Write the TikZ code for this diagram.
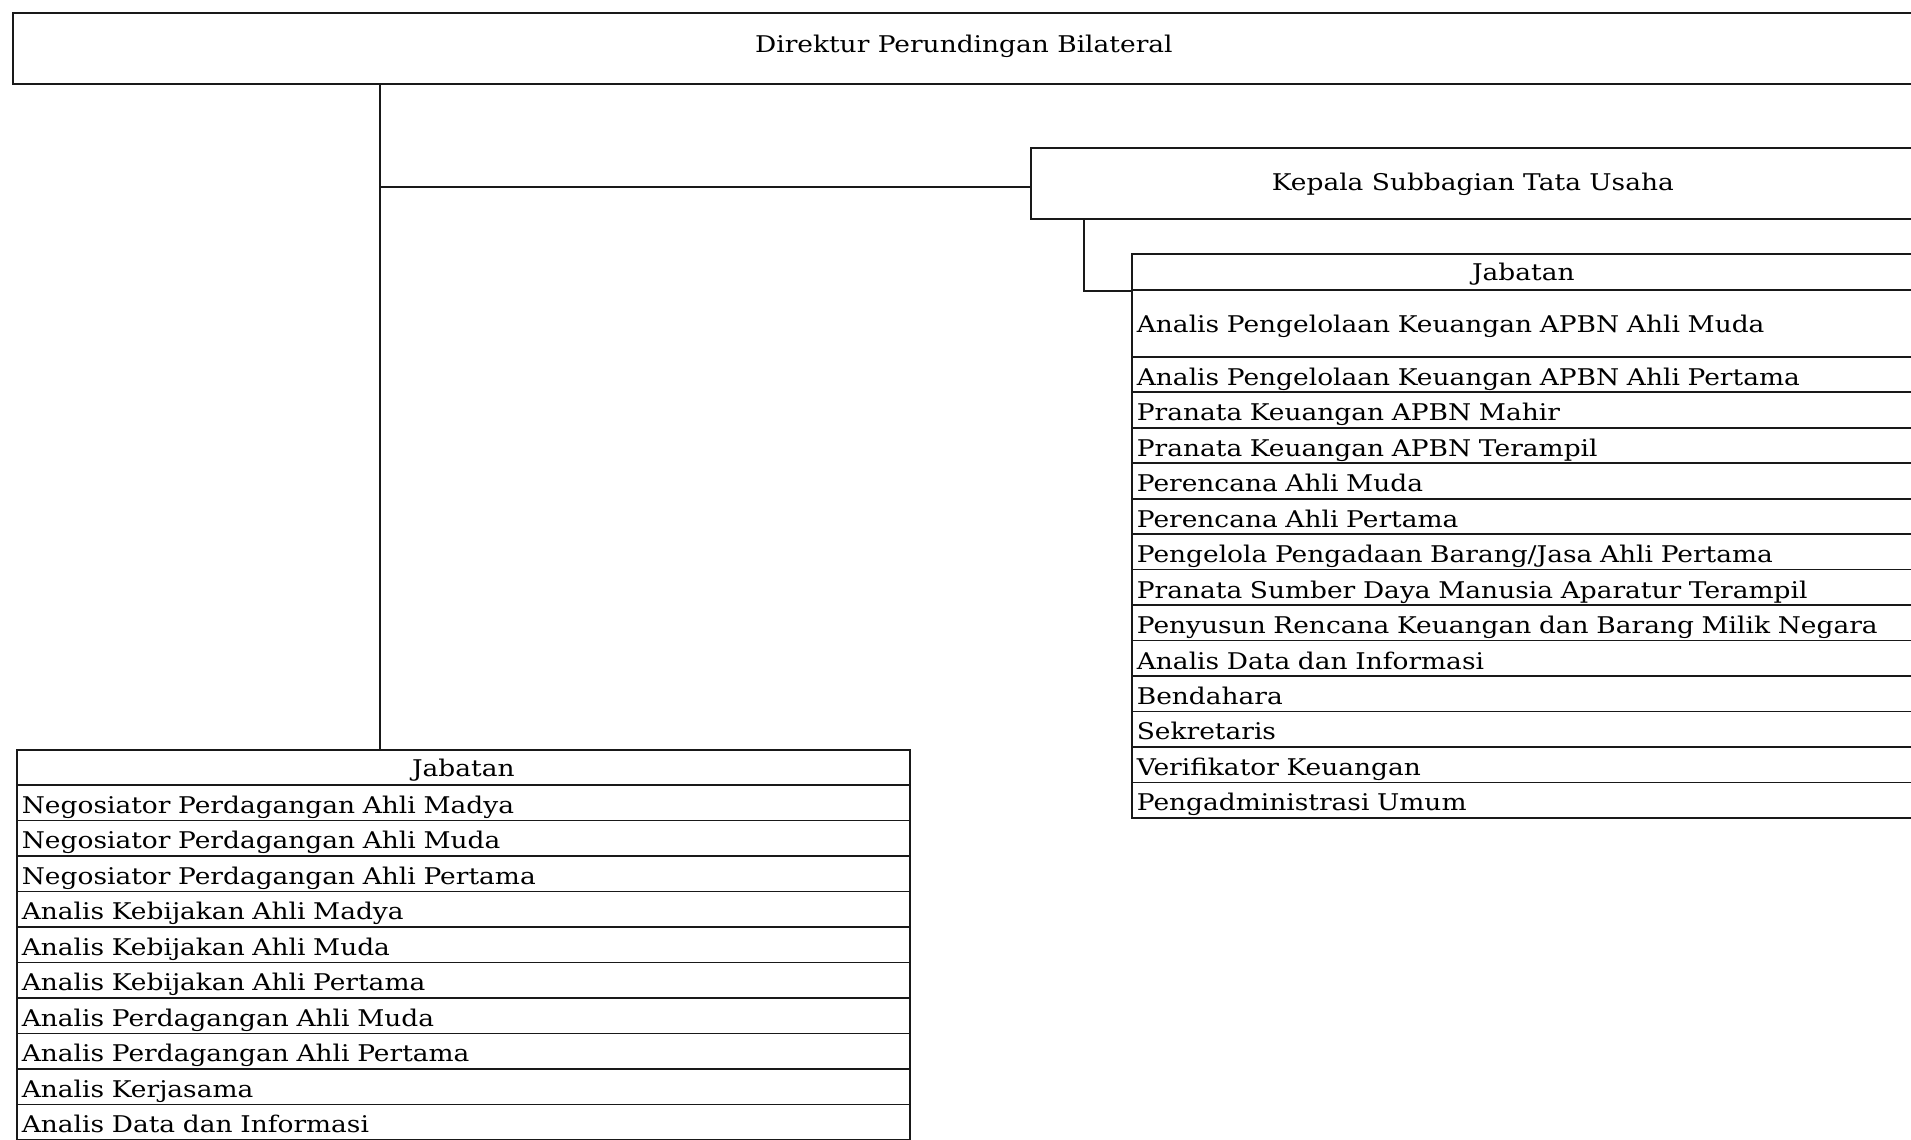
\documentclass[tikz,border=0pt]{standalone}
\usepackage{fontspec}
\setmainfont[FakeStretch=1.15]{DejaVu Serif}
\begin{document}
\begin{tikzpicture}[x=1pt,y=-1pt,
  font=\fontsize{23}{28}\selectfont,
  ln/.style={line width=1.7pt, draw=black!90},
  bigbox/.style={ln, anchor=north west, inner sep=0pt, text height=9pt, text depth=0pt},
  hdrbox/.style={ln, anchor=north west, inner ysep=0pt, inner xsep=0pt, text height=17pt, text depth=0pt, minimum height=36pt},
  rowR/.style={ln, anchor=north west, inner ysep=0pt, inner xsep=5pt, text width=773pt, align=left, text height=21.5pt, text depth=0pt, minimum height=35.46pt},
  rowL/.style={ln, anchor=north west, inner ysep=0pt, inner xsep=5pt, text width=883pt, align=left, text height=21.5pt, text depth=0pt, minimum height=35.5pt}
]
\useasboundingbox (0,0) rectangle (1911,1140);

% top box
\node[bigbox, minimum width=1902pt, minimum height=71pt] (dir) at (12,12) {Direktur Perundingan Bilateral};
% Kepala box
\node[bigbox, minimum width=884pt, minimum height=71pt, text height=15pt] (kep) at (1030,147) {Kepala Subbagian Tata Usaha};

% right table
\node[hdrbox, minimum width=783pt] (rjh) at (1131,253) {Jabatan};
\node[rowR, minimum height=67pt, text height=19pt] (r1) at (1131,289) {Analis Pengelolaan Keuangan APBN Ahli Muda};
\foreach \t [count=\i from 2] in {Analis Pengelolaan Keuangan APBN Ahli Pertama,
  Pranata Keuangan APBN Mahir,
  Pranata Keuangan APBN Terampil,
  Perencana Ahli Muda,
  Perencana Ahli Pertama,
  Pengelola Pengadaan Barang/Jasa Ahli Pertama,
  Pranata Sumber Daya Manusia Aparatur Terampil,
  Penyusun Rencana Keuangan dan Barang Milik Negara,
  Analis Data dan Informasi,
  Bendahara,
  Sekretaris,
  Verifikator Keuangan,
  Pengadministrasi Umum}
  \node[rowR] (r\i) at (1131,{356+(\i-2)*35.46}) {\t};

% left table
\node[hdrbox, minimum width=893pt, minimum height=35pt, text height=18pt] (ljh) at (16,749) {Jabatan};
\foreach \t [count=\i from 1] in {Negosiator Perdagangan Ahli Madya,
  Negosiator Perdagangan Ahli Muda,
  Negosiator Perdagangan Ahli Pertama,
  Analis Kebijakan Ahli Madya,
  Analis Kebijakan Ahli Muda,
  Analis Kebijakan Ahli Pertama,
  Analis Perdagangan Ahli Muda,
  Analis Perdagangan Ahli Pertama,
  Analis Kerjasama,
  Analis Data dan Informasi}
  \node[rowL] (l\i) at (16,{784+(\i-1)*35.5}) {\t};

% connectors
\coordinate (v) at (380,0);
\coordinate (br) at (380,187);
\coordinate (k2) at (1084,0);
\draw[ln] (dir.south -| v) -- (ljh.north -| v);
\draw[ln] (br) -- (br -| kep.west);
\draw[ln] (kep.south -| k2) -- (k2 |- rjh.south) -- (rjh.south west);
\end{tikzpicture}
\end{document}
